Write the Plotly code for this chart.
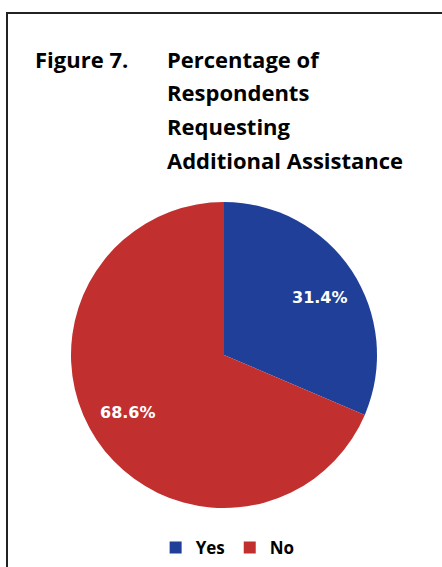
import math
import plotly.graph_objects as go

# Survey answers and their shares (%)
answers = ["Yes", "No"]
shares = [31.4, 68.6]
slice_colors = ["#1f3f99", "#c22f2f"]

title_lead = "Figure 7."
title_lines = ["Percentage of", "Respondents", "Requesting", "Additional Assistance"]

W, H = 442, 567
# pie box in pixels (left, top, right, bottom)
PX0, PY0, PX1, PY1 = 71, 202, 377, 508
cx, cy, r = (PX0 + PX1) / 2, (PY0 + PY1) / 2, (PX1 - PX0) / 2

fig = go.Figure(
    go.Pie(
        labels=answers,
        values=shares,
        sort=False,
        direction="clockwise",
        rotation=0,
        marker=dict(colors=slice_colors, line=dict(width=0)),
        textinfo="none",
        hoverinfo="label+percent",
        domain=dict(x=[PX0 / W, PX1 / W], y=[1 - PY1 / H, 1 - PY0 / H]),
    )
)

annotations = []

# value labels placed along each slice's mid-angle (clockwise from 12 o'clock)
total = sum(shares)
start = 0.0
for val in shares:
    mid = (start + val / 2) / total * 2 * math.pi
    start += val
    lx = cx + 0.75 * r * math.sin(mid)
    ly = cy - 0.685 * r * math.cos(mid)
    annotations.append(
        dict(text=f"{val:.1f}%", x=lx / W, y=1 - ly / H, xanchor="center", yanchor="middle",
             xref="paper", yref="paper", showarrow=False,
             font=dict(family="DejaVu Sans", size=16, color="white", weight="bold"))
    )

title_font = dict(family="Open Sans", size=22, color="black", weight="bold")
annotations.append(
    dict(text=title_lead, x=33 / W, y=1 - 59 / H, xanchor="left", yanchor="middle",
         xref="paper", yref="paper", showarrow=False, font=title_font)
)
for i, line in enumerate(title_lines):
    annotations.append(
        dict(text=line, x=165 / W, y=1 - (59 + 33.5 * i) / H, xanchor="left", yanchor="middle",
             xref="paper", yref="paper", showarrow=False, font=title_font)
    )

fig.update_layout(
    width=W,
    height=H,
    margin=dict(l=0, r=0, t=0, b=0),
    paper_bgcolor="white",
    plot_bgcolor="white",
    annotations=annotations,
    showlegend=True,
    legend=dict(
        orientation="h",
        x=0.515,
        xanchor="center",
        y=1 - 548 / H,
        yanchor="middle",
        font=dict(family="Open Sans", size=17, color="black", weight="bold"),
        itemwidth=30,
        tracegroupgap=0,
    ),
    shapes=[
        dict(
            type="path",
            xref="paper",
            yref="paper",
            path=f"M {7 / W},0 L {7 / W},{1 - 13 / H} L 1,{1 - 13 / H}",
            line=dict(color="#222222", width=2),
        )
    ],
)

fig.write_html("out.html")
